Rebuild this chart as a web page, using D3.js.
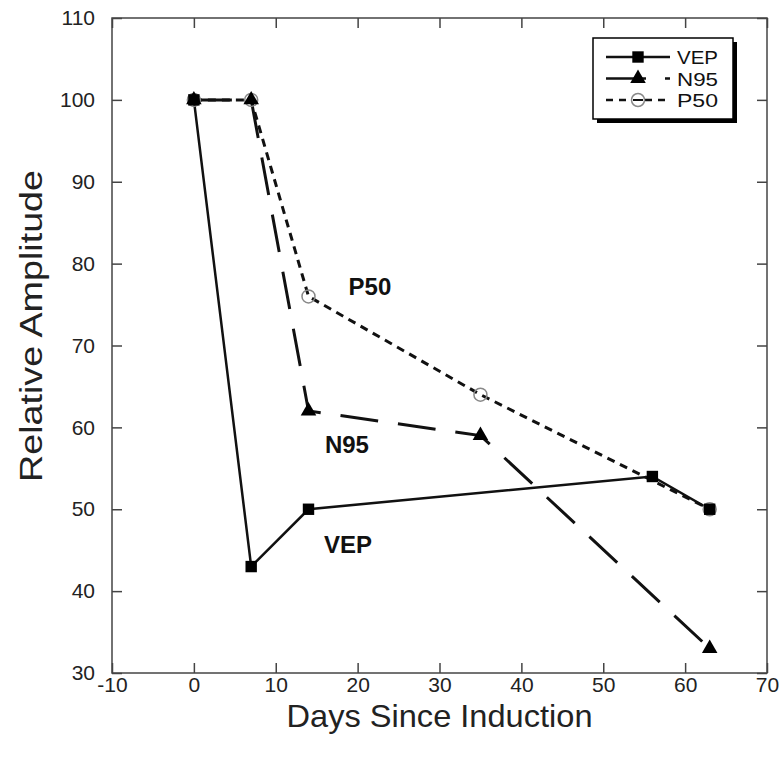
<!DOCTYPE html>
<html>
<head>
<meta charset="utf-8">
<script src="https://cdn.jsdelivr.net/npm/d3@7"></script>
<style>
  body { margin: 0; background: #fff; }
  svg { font-family: "Liberation Sans", Arial, sans-serif; }
</style>
</head>
<body>
<svg width="783" height="762"></svg>
<script>
// values
const vepDays = [0, 7, 14, 56, 63];
const vepAmp = [100, 43, 50, 54, 50];
const n95Days = [0, 7, 14, 35, 63];
const n95Amp = [100, 100, 62, 59, 33];
const p50Days = [0, 7, 14, 35, 63];
const p50Amp = [100, 100, 76, 64, 50];

const xTicks = [-10, 0, 10, 20, 30, 40, 50, 60, 70];
const yTicks = [30, 40, 50, 60, 70, 80, 90, 100, 110];

const seriesNames = ['VEP', 'N95', 'P50'];
// in-plot labels, placed in data units
const labelDays = [15.9, 16.0, 18.9];
const labelAmp = [44.7, 56.9, 76.2];

const svg = d3.select('svg');
const pLeft = 112, pRight = 767, pTop = 18, pBottom = 673;

const x = d3.scaleLinear().domain([-10, 70]).range([pLeft, pRight]);
const y = d3.scaleLinear().domain([30, 110]).range([pBottom, pTop]);

const zip = (xs, ys) => xs.map((d, i) => [d, ys[i]]);
const vep = zip(vepDays, vepAmp);
const n95 = zip(n95Days, n95Amp);
const p50 = zip(p50Days, p50Amp);

// axes with inward ticks on all four sides
const frameColor = '#444';
const plain = d => String(d);   // keep the ascii hyphen for -10
const styleAxis = g => {
  g.select('.domain').remove();
  g.selectAll('.tick line').attr('stroke', frameColor).attr('stroke-width', 1.5);
  g.selectAll('.tick text').attr('fill', '#222').style('font-size', '21px');
};

svg.append('g')
  .attr('transform', `translate(${pLeft},0)`)
  .call(d3.axisLeft(y).tickValues(yTicks).tickSize(-10).tickPadding(17).tickFormat(plain))
  .call(styleAxis);
svg.append('g')
  .attr('transform', `translate(${pRight},0)`)
  .call(d3.axisRight(y).tickValues(yTicks).tickSize(-10).tickFormat(''))
  .call(styleAxis);
svg.append('g')
  .attr('transform', `translate(0,${pBottom})`)
  .call(d3.axisBottom(x).tickValues(xTicks).tickSize(-10).tickPadding(4).tickFormat(plain))
  .call(styleAxis);
svg.append('g')
  .attr('transform', `translate(0,${pTop})`)
  .call(d3.axisTop(x).tickValues(xTicks).tickSize(-10).tickFormat(''))
  .call(styleAxis);

svg.append('rect')
  .attr('x', pLeft).attr('y', pTop)
  .attr('width', pRight - pLeft).attr('height', pBottom - pTop)
  .attr('fill', 'none').attr('stroke', frameColor).attr('stroke-width', 1.5);

// axis titles
svg.append('text')
  .attr('x', (pLeft + pRight) / 2).attr('y', 727)
  .attr('text-anchor', 'middle')
  .attr('textLength', 306).attr('lengthAdjust', 'spacingAndGlyphs')
  .style('font-size', '32px').attr('fill', '#222')
  .text('Days Since Induction');
svg.append('text')
  .attr('transform', 'translate(42,326) rotate(-90)')
  .attr('text-anchor', 'middle')
  .attr('textLength', 312).attr('lengthAdjust', 'spacingAndGlyphs')
  .style('font-size', '31px').attr('fill', '#222')
  .text('Relative Amplitude');

// lines
const line = d3.line().x(d => x(d[0])).y(d => y(d[1]));

svg.append('path').datum(p50).attr('d', line)
  .attr('fill', 'none').attr('stroke', '#111').attr('stroke-width', 3)
  .attr('stroke-dasharray', '8,6');
svg.append('path').datum(n95).attr('d', line)
  .attr('fill', 'none').attr('stroke', '#111').attr('stroke-width', 3)
  .attr('stroke-dasharray', '38,20');
svg.append('path').datum(vep).attr('d', line)
  .attr('fill', 'none').attr('stroke', '#111').attr('stroke-width', 2.5);

// markers
const square = d3.symbol().type(d3.symbolSquare).size(130);
const triangle = d3.symbol().type(d3.symbolTriangle).size(105);

svg.append('g').selectAll('circle').data(p50).join('circle')
  .attr('cx', d => x(d[0])).attr('cy', d => y(d[1])).attr('r', 6.5)
  .attr('fill', 'none').attr('stroke', '#888').attr('stroke-width', 1.5);
svg.append('g').selectAll('path').data(n95).join('path')
  .attr('d', triangle)
  .attr('transform', d => `translate(${x(d[0])},${y(d[1])})`)
  .attr('fill', '#000');
svg.append('g').selectAll('path').data(vep).join('path')
  .attr('d', square)
  .attr('transform', d => `translate(${x(d[0])},${y(d[1])})`)
  .attr('fill', '#000');

// in-plot labels
svg.append('g').selectAll('text').data(seriesNames).join('text')
  .attr('x', (d, i) => x(labelDays[i]))
  .attr('y', (d, i) => y(labelAmp[i]))
  .style('font-size', '24px').style('font-weight', 'bold').attr('fill', '#111')
  .text(d => d);

// legend
const lg = svg.append('g').attr('transform', 'translate(593,38)');
lg.append('rect').attr('x', 4).attr('y', 4).attr('width', 140).attr('height', 81).attr('fill', '#000');
lg.append('rect').attr('width', 140).attr('height', 81)
  .attr('fill', '#fff').attr('stroke', '#000').attr('stroke-width', 1.5);

const rows = [19, 40.5, 62];
const dashes = [null, '40,19', '7,6'];
rows.forEach((ry, i) => {
  lg.append('line').attr('x1', 13).attr('x2', 77).attr('y1', ry).attr('y2', ry)
    .attr('stroke', '#111').attr('stroke-width', 2.5)
    .attr('stroke-dasharray', dashes[i]);
  if (i === 0) {
    lg.append('path').attr('d', square).attr('transform', `translate(45,${ry})`).attr('fill', '#000');
  } else if (i === 1) {
    lg.append('path').attr('d', triangle).attr('transform', `translate(45,${ry})`).attr('fill', '#000');
  } else {
    lg.append('circle').attr('cx', 45).attr('cy', ry).attr('r', 6.5)
      .attr('fill', '#fff').attr('stroke', '#888').attr('stroke-width', 1.5);
    lg.append('line').attr('x1', 40).attr('x2', 50).attr('y1', ry).attr('y2', ry)
      .attr('stroke', '#111').attr('stroke-width', 2);
  }
  lg.append('text').attr('x', 84).attr('y', ry + 7)
    .style('font-size', '19px').attr('fill', '#111')
    .attr('textLength', 41).attr('lengthAdjust', 'spacingAndGlyphs')
    .text(seriesNames[i]);
});
</script>
</body>
</html>
